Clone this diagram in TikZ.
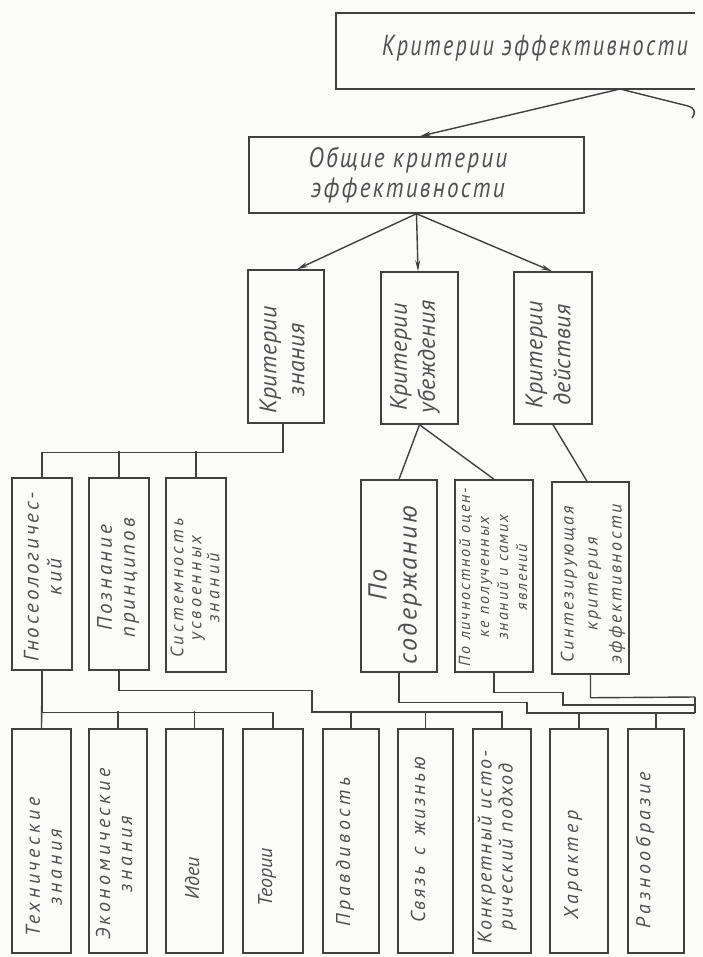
\documentclass[tikz,border=0pt]{standalone}
\usepackage{fontspec}
\setmainfont{PT Sans}
\usetikzlibrary{arrows.meta}
\definecolor{linec}{HTML}{404040}
\definecolor{txtc}{HTML}{505050}
\definecolor{paper}{HTML}{FBFBFA}
\newcommand{\fA}{\fontsize{29}{30}\selectfont\itshape\addfontfeatures{FakeStretch=0.76,LetterSpace=8}}
\newcommand{\fAb}{\fontsize{28}{30}\selectfont\itshape\addfontfeatures{FakeStretch=0.83,LetterSpace=8}}
\newcommand{\fB}{\fontsize{24}{28}\selectfont\itshape\addfontfeatures{LetterSpace=2}}
\newcommand{\fBb}{\fontsize{26}{30}\selectfont\itshape\addfontfeatures{LetterSpace=10}}
\newcommand{\fD}{\fontsize{21}{23}\selectfont\itshape\addfontfeatures{LetterSpace=14}}
\newcommand{\fC}{\fontsize{18}{18}\selectfont\itshape\addfontfeatures{LetterSpace=18}}
\newcommand{\fCp}{\fontsize{16}{19}\selectfont\itshape\addfontfeatures{LetterSpace=12}}
\newcommand{\fCs}{\fontsize{18}{24}\selectfont\itshape\addfontfeatures{LetterSpace=14}}
\newcommand{\fE}{\fontsize{20}{22}\selectfont\itshape\addfontfeatures{LetterSpace=18}}
\newcommand{\fEs}{\fontsize{20}{22}\selectfont\itshape\addfontfeatures{LetterSpace=13}}
\newcommand{\fEk}{\fontsize{20}{21}\selectfont\itshape\addfontfeatures{LetterSpace=10}}
\newcommand{\fEt}{\fontsize{20}{22}\selectfont\itshape\addfontfeatures{LetterSpace=0}}
\begin{document}
\begin{tikzpicture}[x=1pt,y=-1pt,
  box/.style={draw=linec, line width=1.5pt, inner sep=0pt, rectangle},
  lbl/.style={text=txtc, align=center, inner sep=0pt},
  vlbl/.style={lbl, rotate=90},
  conn/.style={draw=linec, line width=1.4pt},
  arr/.style={conn, -{Stealth[length=11pt,width=5pt]}}]
\fill[paper] (0,0) rectangle (703,957);
\useasboundingbox (0,0) rectangle (703,957);

% top box (right side cut off in the reference)
\node[inner sep=0pt, minimum width=359, minimum height=76] (top) at (515.5,51) {};
\draw[conn, line width=1.5pt] (top.north east) -- (top.north west) -- (top.south west) -- (top.south east);
\node[lbl, font=\fA] (tTop) at (535,48) {Критерии эффективности};
\coordinate (tj) at (620,89);
\coordinate (hook) at (692,118);

% general criteria
\node[box, minimum width=335, minimum height=76] (obsh) at (416.5,175) {};
\node[lbl, font=\fAb] (tObsh) at (408,175) {Общие критерии\\эффективности};

% three criteria
\node[box, minimum width=76, minimum height=153] (kz) at (286,346.5) {};
\node[box, minimum width=77, minimum height=152] (ku) at (419.5,348) {};
\node[box, minimum width=78, minimum height=152] (kd) at (553,348) {};
\node[vlbl, font=\fB] (tKz) at (282,360) {Критерии\\знания};
\node[vlbl, font=\fB] (tKu) at (415,357) {Критерии\\убеждения};
\node[vlbl, font=\fB] (tKd) at (548,355) {Критерии\\действия};

% middle row
\node[box, minimum width=60, minimum height=192] (gnos) at (42,574) {};
\node[box, minimum width=60, minimum height=192] (pozn) at (119,574) {};
\node[box, minimum width=60, minimum height=194] (sist) at (196,575) {};
\node[box, minimum width=76, minimum height=192] (posod) at (399,576) {};
\node[box, minimum width=78, minimum height=192] (polich) at (494,576) {};
\node[box, minimum width=77, minimum height=192] (sint) at (590.5,578) {};
\node[vlbl, font=\fD] (tGnos) at (43,577) {Гносеологичес-\\кий};
\node[vlbl, font=\fD] (tPozn) at (118,578) {Познание\\принципов};
\node[vlbl, font=\fC] (tSist) at (195,588) {Системность\\усвоенных\\знаний};
\node[vlbl, font=\fBb] (tPosod) at (395,585) {По\\содержанию};
\node[vlbl, font=\fCp] (tPolich) at (493,577) {По личностной оцен-\\ке полученных\\знаний и самих\\явлений};
\node[vlbl, font=\fCs] (tSint) at (593,584) {Синтезирующая\\критерия\\эффективности};

% bottom row
\node[box, minimum width=59, minimum height=224] (tech) at (41.5,841) {};
\node[box, minimum width=58, minimum height=224] (ekon) at (118,841) {};
\node[box, minimum width=57, minimum height=224] (idei) at (194.5,841) {};
\node[box, minimum width=60, minimum height=224] (teor) at (273,841) {};
\node[box, minimum width=56, minimum height=224] (prav) at (351,841) {};
\node[box, minimum width=55, minimum height=224] (svyaz) at (425.5,841) {};
\node[box, minimum width=58, minimum height=224] (konk) at (502,841) {};
\node[box, minimum width=58, minimum height=224] (har) at (579,841) {};
\node[box, minimum width=56, minimum height=224] (razn) at (656,841) {};
\node[vlbl, font=\fE] (tTech) at (44,867) {Технические\\знания};
\node[vlbl, font=\fE] (tEkon) at (114,854) {Экономические\\знания};
\node[vlbl, font=\fEt] (tIdei) at (192,878) {Идеи};
\node[vlbl, font=\fEt] (tTeor) at (267,877) {Теории};
\node[vlbl, font=\fE] (tPrav) at (345,852) {Правдивость};
\node[vlbl, font=\fEs] (tSvyaz) at (418,840) {Связь\, с\, жизнью};
\node[vlbl, font=\fEk] (tKonk) at (497,847) {Конкретный исто-\\рический подход};
\node[vlbl, font=\fE] (tHar) at (573,865) {Х\,а\,р\,а\,к\,т\,е\,р};
\node[vlbl, font=\fE] (tRazn) at (645,850) {Разнообразие};

% connectors: top part
\draw[arr] (tj) -- (obsh.north -| 420,0);
\draw[conn] (tj) -- (688,106) .. controls (695,108) and (696,113) .. (hook);
\draw[arr] (obsh.south) -- (kz.north -| 297,0);
\draw[arr] (obsh.south) -- (ku.north -| 418,0);
\draw[arr] (obsh.south) -- (kd.north -| 552,0);

% criteria of knowledge -> middle row
\draw[conn] (kz.south -| 283,0) -- ++(0,29) -| (gnos.north);
\draw[conn] (pozn.north) -- ++(0,-26);
\draw[conn] (sist.north) -- ++(0,-26);

% criteria of conviction / action -> middle row
\draw[conn] (ku.south) -- (posod.north);
\draw[conn] (ku.south) -- (polich.north);
\draw[conn] (kd.south) -- (sint.north -| 587,0);

% middle row -> bottom row
\draw[conn] (gnos.south) -- ++(0,42) -| (teor.north);
\draw[conn] (gnos.south) -- (tech.north);
\draw[conn] (ekon.north) -- ++(0,-17);
\draw[conn] (idei.north) -- ++(0,-17);

\coordinate (pz1) at (312,712);
\draw[conn] (pozn.south) -- ++(0,20) -| (pz1) -| (konk.north);
\draw[conn] (prav.north) -- ++(0,-17);
\draw[conn] (svyaz.north) -- ++(0,-17);

\coordinate (ps1) at (527,713);
\coordinate (rj1) at (695,713);
\coordinate (rj2) at (695,705);
\coordinate (rj3) at (695,697);
\draw[conn] (posod.south) -- ++(0,30) -| (ps1) -- (rj1);
\draw[conn] (har.north) -- ++(0,-16);
\draw[conn] (razn.north) -- ++(0,-16);
\draw[conn] (polich.south) -- ++(0,20) -| (563,705) -- (rj2);
\draw[conn] (sint.south) -- ++(0,23) -- (rj3);
\draw[conn] (rj3) -- (rj1);
\end{tikzpicture}
\end{document}
